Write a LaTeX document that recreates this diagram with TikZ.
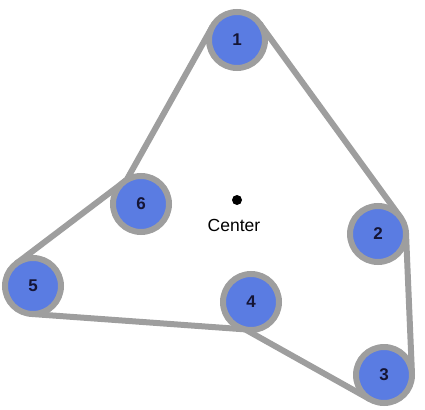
\documentclass[tikz,border=0pt]{standalone}
\usepackage{fontspec}
\setmainfont{Liberation Sans}
\usetikzlibrary{backgrounds}
\definecolor{beltgray}{HTML}{9E9E9E}
\definecolor{pulleyblue}{HTML}{5A7CE2}
\definecolor{numcol}{HTML}{151535}
\begin{document}
\begin{tikzpicture}[x=1pt,y=-1pt,
  pulley/.style={circle, draw=beltgray, fill=pulleyblue, line width=6pt,
    minimum size=56pt, inner sep=0pt, outer sep=0pt, text=numcol,
    font=\fontsize{17}{17}\selectfont\bfseries},
  belt/.style={draw=beltgray, line width=6pt, line join=round},
  dot/.style={circle, fill=black, minimum size=10pt, inner sep=0pt},
  lbl/.style={font=\fontsize{17.5}{18}\selectfont, text=black}]
\useasboundingbox (0,0) rectangle (425,409);
\node[pulley] (n1) at (237,40) {1};
\node[pulley] (n2) at (378,234) {2};
\node[pulley] (n3) at (384,375) {3};
\node[pulley] (n4) at (251,302) {4};
\node[pulley] (n5) at (33,286) {5};
\node[pulley] (n6) at (141,204) {6};
\node[dot] (c) at (237,200) {};
\node[lbl] (cl) at (234,225) {Center};
\begin{scope}[on background layer]
\draw[belt] (n1.36) -- (n2.36);
\draw[belt] (n2.2.4) -- (n3.2.4);
\draw[belt] (n3.241) -- (n4.258) -- (n5.266);
\draw[belt] (n5.127) -- (n6.121) -- (n1.151);
\end{scope}
\end{tikzpicture}
\end{document}
